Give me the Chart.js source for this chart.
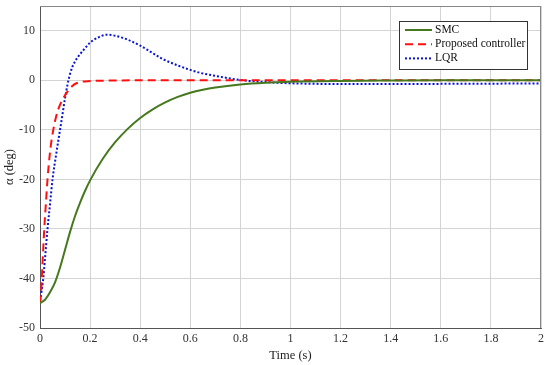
<!DOCTYPE html>
<html>
<head>
<meta charset="utf-8">
<script src="https://cdn.jsdelivr.net/npm/chart.js@4.4.1/dist/chart.umd.min.js"></script>
<style>
html,body{margin:0;padding:0;background:#fff;}
#wrap{width:550px;height:365px;}
</style>
</head>
<body>
<div id="wrap"><canvas id="c" width="550" height="365"></canvas></div>
<script>
const seriesNames = ['SMC', 'Proposed controller', 'LQR'];
const xTicks = [0, 0.2, 0.4, 0.6, 0.8, 1, 1.2, 1.4, 1.6, 1.8, 2];
const yTicks = [-50, -40, -30, -20, -10, 0, 10];

const smcT = [0, 0.02, 0.04, 0.06, 0.08, 0.10, 0.12, 0.14, 0.16, 0.18, 0.20, 0.25, 0.30, 0.35, 0.40, 0.45, 0.50, 0.55, 0.60, 0.65, 0.70, 0.80, 0.90, 1.0, 1.2, 1.4, 1.6, 1.8, 2.0];
const smcY = [-45, -44.3, -42.8, -40.8, -37.8, -34.2, -30.6, -27.4, -24.7, -22.3, -20.2, -15.9, -12.5, -9.8, -7.6, -5.85, -4.45, -3.35, -2.5, -1.9, -1.45, -0.85, -0.5, -0.3, -0.13, -0.05, 0, 0, 0];

const propT = [0, 0.004, 0.007, 0.012, 0.017, 0.024, 0.03, 0.04, 0.053, 0.07, 0.09, 0.11, 0.13, 0.15, 0.2, 0.3, 0.4, 0.6, 1.0, 1.5, 2.0];
const propY = [-45, -43, -40, -35, -30, -24.5, -20, -14.5, -10, -6.3, -3.9, -2.3, -1.1, -0.5, -0.15, -0.05, 0, 0, 0, 0, 0];

const lqrT = [0, 0.005, 0.013, 0.02, 0.03, 0.04, 0.05, 0.065, 0.08, 0.09, 0.1, 0.11, 0.12, 0.13, 0.14, 0.15, 0.175, 0.2, 0.23, 0.266, 0.3, 0.35, 0.4, 0.44, 0.486, 0.55, 0.6, 0.64, 0.7, 0.75, 0.8, 0.9, 1.0, 1.2, 1.4, 1.6, 1.8, 2.0];
const lqrY = [-44.5, -43, -40, -36, -30, -25, -20, -14.8, -10, -6.8, -3.6, -0.8, 1.3, 2.8, 3.8, 4.6, 6.2, 7.6, 8.6, 9.2, 9.0, 8.2, 7.0, 5.8, 4.4, 3.0, 2.1, 1.5, 0.9, 0.45, 0.05, -0.35, -0.6, -0.75, -0.75, -0.72, -0.68, -0.62];

function pts(t, y) { return t.map((v, i) => ({x: v, y: y[i]})); }

const FONT = '"Liberation Serif", "Times New Roman", serif';

const legendPlugin = {
  id: 'boxLegend',
  afterDraw(chart) {
    const ctx = chart.ctx;
    const ca = chart.chartArea;
    const x0 = ca.right - 142, y0 = ca.top + 15, w = 128, h = 48;
    ctx.save();
    ctx.fillStyle = '#fff';
    ctx.fillRect(x0, y0, w, h);
    ctx.strokeStyle = '#333';
    ctx.lineWidth = 1;
    ctx.strokeRect(x0 + 0.5, y0 + 0.5, w, h);
    ctx.font = '11.5px ' + FONT;
    ctx.textBaseline = 'middle';
    ctx.fillStyle = '#111';
    chart.data.datasets.forEach((ds, i) => {
      const yy = y0 + 9 + i * 14.2;
      ctx.beginPath();
      ctx.strokeStyle = ds.borderColor;
      ctx.lineWidth = ds.borderWidth;
      ctx.setLineDash(ds.borderDash || []);
      ctx.moveTo(x0 + 6, yy);
      ctx.lineTo(x0 + 33, yy);
      ctx.stroke();
      ctx.setLineDash([]);
      ctx.fillText(ds.label, x0 + 36, yy);
    });
    ctx.restore();
  }
};

new Chart(document.getElementById('c'), {
  type: 'line',
  data: {
    datasets: [
      {label: seriesNames[0], data: pts(smcT, smcY), borderColor: '#46781e', borderWidth: 2, pointRadius: 0, fill: false, cubicInterpolationMode: 'monotone'},
      {label: seriesNames[1], data: pts(propT, propY), borderColor: '#ff1010', borderWidth: 2, borderDash: [8, 5], pointRadius: 0, fill: false, cubicInterpolationMode: 'monotone'},
      {label: seriesNames[2], data: pts(lqrT, lqrY), borderColor: '#0a14d2', borderWidth: 2, borderDash: [2, 2], pointRadius: 0, fill: false, cubicInterpolationMode: 'monotone'}
    ]
  },
  options: {
    responsive: false,
    animation: false,
    layout: {padding: {top: 6, right: 9, left: 2, bottom: 0}},
    plugins: {legend: {display: false}, tooltip: {enabled: false}},
    scales: {
      x: {
        type: 'linear', min: 0, max: 2,
        afterFit(s) { s.height = 37; },
        afterBuildTicks(s) { s.ticks = xTicks.map(v => ({value: v})); },
        ticks: {color: '#333', font: {family: FONT, size: 12}, padding: 4, maxRotation: 0, autoSkip: false,
          callback: v => String(+(+v).toFixed(1))},
        grid: {color: '#d4d4d4', lineWidth: 1, tickLength: 0},
        border: {color: '#555', width: 1},
        title: {display: true, text: 'Time (s)', color: '#222', font: {family: FONT, size: 12.5}, padding: {top: 0, bottom: 2}}
      },
      y: {
        type: 'linear', min: -50, max: 15,
        afterFit(s) { s.width = 38; s.paddingTop = 0; s.paddingBottom = 0; },
        afterBuildTicks(s) { s.ticks = yTicks.map(v => ({value: v})); },
        ticks: {color: '#333', font: {family: FONT, size: 12}, padding: 5, autoSkip: false},
        grid: {color: '#d4d4d4', lineWidth: 1, tickLength: 0},
        border: {color: '#555', width: 1},
        title: {display: true, text: 'α (deg)', color: '#222', font: {family: FONT, size: 12.5}, padding: {top: 0, bottom: 2}}
      }
    }
  },
  plugins: [legendPlugin, {
    id: 'frame',
    afterDraw(chart) {
      const ca = chart.chartArea, ctx = chart.ctx;
      ctx.save();
      ctx.strokeStyle = '#888';
      ctx.lineWidth = 1;
      ctx.beginPath();
      ctx.moveTo(ca.left, ca.top + 0.5); ctx.lineTo(ca.right, ca.top + 0.5);
      ctx.moveTo(ca.right - 0.5, ca.top); ctx.lineTo(ca.right - 0.5, ca.bottom);
      ctx.stroke();
      ctx.restore();
    }
  }]
});
</script>
</body>
</html>
